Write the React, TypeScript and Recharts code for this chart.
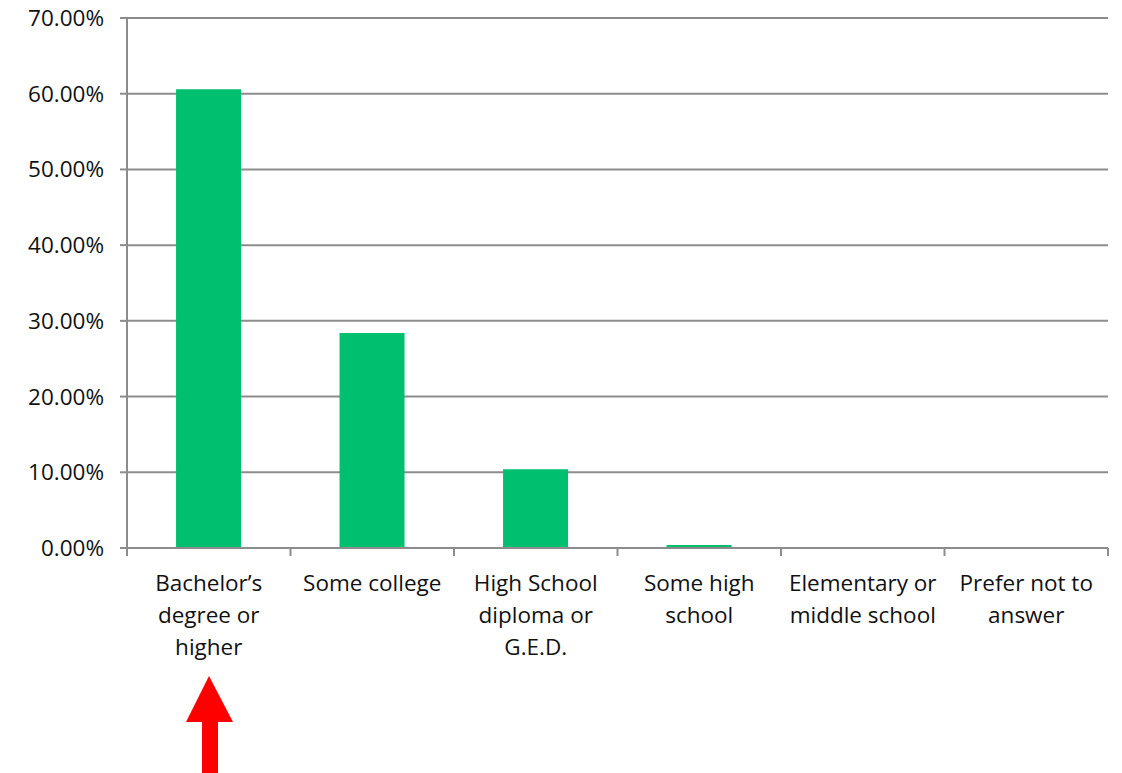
import { BarChart, Bar, XAxis, YAxis, CartesianGrid } from 'recharts';

const categories = [
  'Bachelor’s degree or higher',
  'Some college',
  'High School diploma or G.E.D.',
  'Some high school',
  'Elementary or middle school',
  'Prefer not to answer',
];
const labelLines = [
  ['Bachelor’s', 'degree or', 'higher'],
  ['Some college'],
  ['High School', 'diploma or', 'G.E.D.'],
  ['Some high', 'school'],
  ['Elementary or', 'middle school'],
  ['Prefer not to', 'answer'],
];
const shares = [0.606, 0.284, 0.104, 0.004, 0, 0];
const yTicks = [0, 0.1, 0.2, 0.3, 0.4, 0.5, 0.6, 0.7];

const FONT = "'Open Sans', sans-serif";
const GRID = '#8c8c8c';
const BAND = (1108 - 127) / categories.length;

const data = categories.map((name, i) => ({ name, value: shares[i] }));

function CategoryTick(props: any) {
  const { x, y, index } = props;
  const lines = labelLines[index] || [];
  const left = x - BAND / 2;
  return (
    <g>
      <line x1={left} y1={y - 8} x2={left} y2={y} stroke={GRID} strokeWidth={2} />
      {index === categories.length - 1 && (
        <line x1={left + BAND} y1={y - 8} x2={left + BAND} y2={y} stroke={GRID} strokeWidth={2} />
      )}
      {lines.map((l, k) => (
        <text
          key={k}
          x={x}
          y={y + 35 + k * 32}
          textAnchor="middle"
          fill="#111"
          fontSize={22.5}
          fontFamily={FONT}
        >
          {l}
        </text>
      ))}
    </g>
  );
}

export default function App() {
  return (
    <div style={{ position: 'absolute', left: 0, top: 0, width: 1122, height: 773, background: '#fff' }}>
      <BarChart
        width={1122}
        height={773}
        data={data}
        margin={{ top: 18, right: 14, left: 0, bottom: 0 }}
        barCategoryGap="30%"
      >
        <CartesianGrid vertical={false} stroke={GRID} strokeWidth={2} />
        <XAxis
          dataKey="name"
          interval={0}
          stroke={GRID}
          strokeWidth={2}
          tickLine={false}
          tick={<CategoryTick />}
          height={225}
        />
        <YAxis
          domain={[0, 0.7]}
          ticks={yTicks}
          width={127}
          stroke={GRID}
          strokeWidth={2}
          tickSize={7}
          tickMargin={16}
          tickFormatter={(v: number) => `${(v * 100).toFixed(2)}%`}
          tick={{ fill: '#111', fontSize: 22.5, fontFamily: FONT }}
          interval={0}
        />
        <Bar dataKey="value" fill="#00BF6F" isAnimationActive={false} />
      </BarChart>
      <svg
        width={1122}
        height={773}
        style={{ position: 'absolute', left: 0, top: 0, pointerEvents: 'none' }}
      >
        <polygon
          points="209,676 186,722 202,722 202,773 218,773 218,722 233,722"
          fill="#ff0000"
        />
      </svg>
    </div>
  );
}
